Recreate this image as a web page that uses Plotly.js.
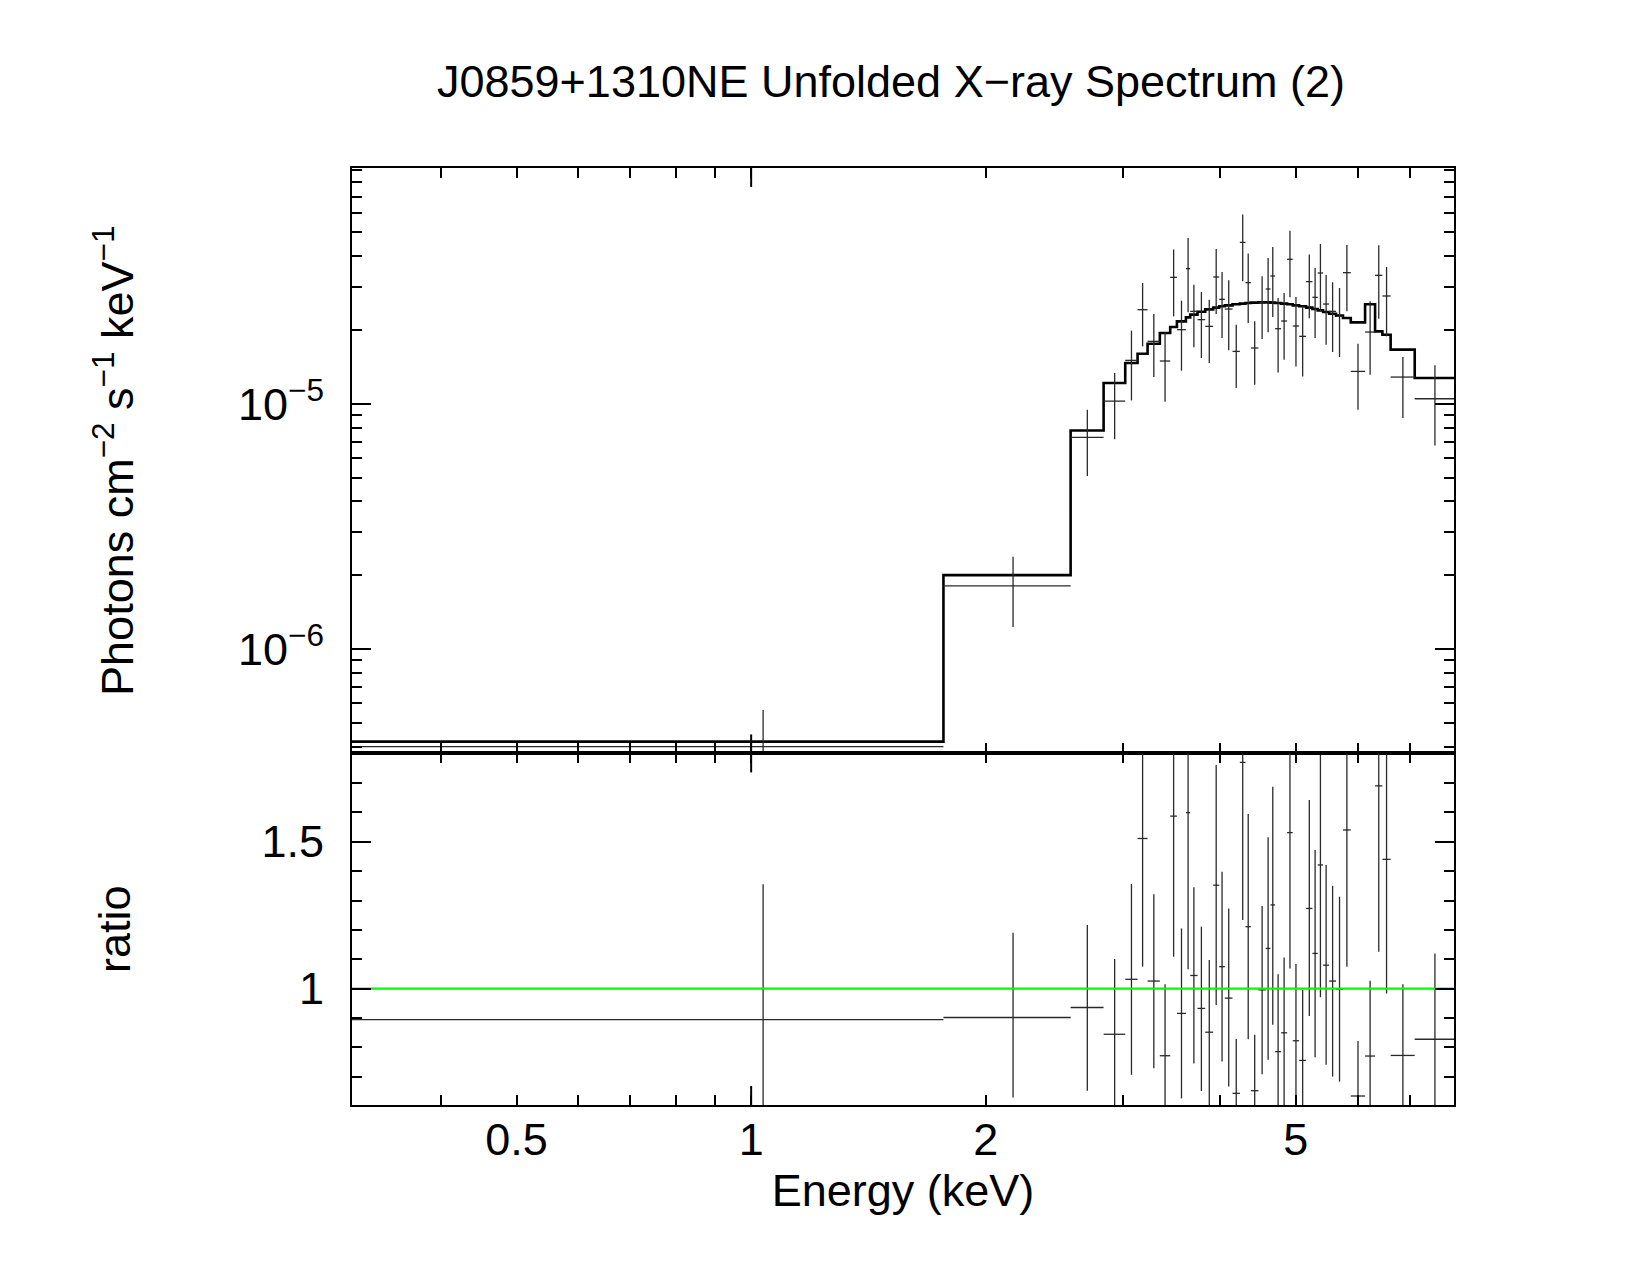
<!DOCTYPE html>
<html>
<head>
<meta charset="utf-8">
<script src="https://cdn.plot.ly/plotly-3.0.1.min.js"></script>
<style>html,body{margin:0;padding:0;background:#fff;}#chart{width:1650px;height:1275px;}</style>
</head>
<body>
<div id="chart"></div>
<script>
// ---- Energy bins (keV) ----
const binLo = [0.3075, 1.765, 2.570, 2.833, 3.020, 3.132, 3.226, 3.345, 3.449, 3.518, 3.613, 3.659, 3.739, 3.825, 3.916, 3.986, 4.053, 4.146, 4.237, 4.308, 4.377, 4.476, 4.574, 4.638, 4.702, 4.786, 4.872, 4.954, 5.048, 5.153, 5.250, 5.333, 5.418, 5.515, 5.630, 5.746, 5.880, 6.134, 6.318, 6.456, 6.615, 7.103];
const binHi = [1.765, 2.570, 2.833, 3.020, 3.132, 3.226, 3.345, 3.449, 3.518, 3.613, 3.659, 3.739, 3.825, 3.916, 3.986, 4.053, 4.146, 4.237, 4.308, 4.377, 4.476, 4.574, 4.638, 4.702, 4.786, 4.872, 4.954, 5.048, 5.153, 5.250, 5.333, 5.418, 5.515, 5.630, 5.746, 5.880, 6.134, 6.318, 6.456, 6.615, 7.103, 7.977];
const binCenter = [1.036, 2.168, 2.700, 2.927, 3.076, 3.179, 3.286, 3.397, 3.484, 3.566, 3.636, 3.699, 3.782, 3.871, 3.951, 4.020, 4.100, 4.192, 4.273, 4.343, 4.427, 4.525, 4.606, 4.670, 4.744, 4.829, 4.913, 5.001, 5.101, 5.202, 5.292, 5.376, 5.467, 5.573, 5.688, 5.813, 6.007, 6.226, 6.387, 6.536, 6.859, 7.540];

// ---- Unfolded model (photons cm^-2 s^-1 keV^-1) ----
const modelFlux = [4.19e-7, 2.00e-6, 7.78e-6, 1.215e-5, 1.466e-5, 1.600e-5, 1.758e-5, 1.943e-5, 2.055e-5, 2.168e-5, 2.251e-5, 2.309e-5, 2.374e-5, 2.427e-5, 2.466e-5, 2.497e-5, 2.520e-5, 2.544e-5, 2.560e-5, 2.576e-5, 2.584e-5, 2.592e-5, 2.592e-5, 2.584e-5, 2.576e-5, 2.560e-5, 2.544e-5, 2.520e-5, 2.497e-5, 2.466e-5, 2.434e-5, 2.404e-5, 2.367e-5, 2.330e-5, 2.287e-5, 2.237e-5, 2.148e-5, 2.544e-5, 1.974e-5, 1.913e-5, 1.662e-5, 1.273e-5];

// ---- Unfolded data with error bounds ----
const dataFlux = [4.0e-7, 1.81e-6, 7.29e-6, 1.025e-5, 1.503e-5, 2.419e-5, 1.797e-5, 1.494e-5, 3.278e-5, 2.005e-5, 3.556e-5, 2.381e-5, 2.203e-5, 2.068e-5, 3.289e-5, 2.666e-5, 2.434e-5, 1.635e-5, 4.555e-5, 3.118e-5, 1.688e-5, 2.576e-5, 2.938e-5, 3.319e-5, 2.023e-5, 2.175e-5, 3.882e-5, 2.075e-5, 1.883e-5, 3.148e-5, 2.716e-5, 3.414e-5, 2.551e-5, 2.381e-5, 2.272e-5, 3.425e-5, 1.355e-5, 1.961e-5, 3.340e-5, 2.751e-5, 1.285e-5, 1.048e-5];
const dataFluxHi = [5.64e-7, 2.38e-6, 9.45e-6, 1.334e-5, 1.986e-5, 3.108e-5, 2.323e-5, 1.955e-5, 4.252e-5, 2.633e-5, 4.746e-5, 3.060e-5, 2.855e-5, 2.658e-5, 4.278e-5, 3.446e-5, 3.187e-5, 2.101e-5, 5.907e-5, 4.095e-5, 2.168e-5, 3.309e-5, 3.931e-5, 4.360e-5, 2.700e-5, 2.829e-5, 5.082e-5, 2.725e-5, 2.496e-5, 4.057e-5, 3.578e-5, 4.484e-5, 3.351e-5, 3.128e-5, 2.966e-5, 4.442e-5, 1.757e-5, 2.617e-5, 4.429e-5, 3.611e-5, 1.551e-5, 1.434e-5];
const dataFluxLo = [2.6e-7, 1.23e-6, 5.08e-6, 7.17e-6, 1.032e-5, 1.714e-5, 1.285e-5, 1.019e-5, 2.272e-5, 1.364e-5, 2.359e-5, 1.698e-5, 1.536e-5, 1.466e-5, 2.323e-5, 1.853e-5, 1.651e-5, 1.159e-5, 3.157e-5, 2.134e-5, 1.196e-5, 1.837e-5, 1.955e-5, 2.258e-5, 1.342e-5, 1.512e-5, 2.716e-5, 1.420e-5, 1.293e-5, 2.230e-5, 1.853e-5, 2.381e-5, 1.741e-5, 1.625e-5, 1.551e-5, 2.381e-5, 9.45e-6, 1.313e-5, 2.223e-5, 1.883e-5, 8.74e-6, 6.76e-6];

// ---- Ratio (data / model) with error bounds ----
const ratio = [0.895, 0.902, 0.936, 0.845, 1.032, 1.511, 1.026, 0.772, 1.587, 0.916, 1.599, 1.045, 0.933, 0.852, 1.352, 1.075, 0.968, 0.644, 1.770, 1.211, 0.653, 0.996, 1.137, 1.285, 0.786, 0.850, 1.531, 0.823, 0.756, 1.273, 1.120, 1.421, 1.080, 1.026, 0.998, 1.540, 0.635, 0.771, 1.690, 1.440, 0.773, 0.828];
const ratioHi = [1.355, 1.190, 1.217, 1.101, 1.356, 1.94, 1.321, 1.015, 2.07, 1.205, 2.10, 1.345, 1.211, 1.098, 1.761, 1.398, 1.273, 0.829, 2.28, 1.594, 0.843, 1.281, 1.515, 1.687, 1.049, 1.106, 1.99, 1.084, 0.996, 1.642, 1.472, 1.795, 1.421, 1.350, 1.313, 2.00, 0.822, 1.027, 2.20, 1.90, 1.015, 1.120];
const ratioLo = [0.45, 0.630, 0.653, 0.59, 0.707, 1.075, 0.729, 0.52, 1.109, 0.627, 1.066, 0.746, 0.652, 0.60, 0.945, 0.752, 0.667, 0.46, 1.234, 0.828, 0.47, 0.709, 0.758, 0.877, 0.55, 0.59, 1.069, 0.57, 0.52, 0.907, 0.767, 0.971, 0.741, 0.701, 0.684, 1.075, 0.44, 0.51, 1.126, 0.984, 0.50, 0.52];
const unityLine = [1, 1];

// ---- Axis ranges and ticks ----
const energyRange = [0.3075, 7.977];
const fluxRange = [3.75e-7, 9.15e-5];
const ratioRange = [0.6044, 1.8003];
const xTickVals = [0.5, 1, 2, 5];
const xTickText = ['0.5', '1', '2', '5'];
const xMinorVals = [0.4, 0.6, 0.7, 0.8, 0.9, 3, 4, 6, 7];
const xLongTick = [1];
const yTickVals = [1e-6, 1e-5];
const yTickText = ['10<sup>−6</sup>', '10<sup>−5</sup>'];
const yMinorVals = [4e-7, 5e-7, 6e-7, 7e-7, 8e-7, 9e-7, 2e-6, 3e-6, 4e-6, 5e-6, 6e-6, 7e-6, 8e-6, 9e-6, 2e-5, 3e-5, 4e-5, 5e-5, 6e-5, 7e-5, 8e-5, 9e-5];
const rTickVals = [1, 1.5];
const rTickText = ['1', '1.5'];
const rMinorVals = [0.7, 0.8, 0.9, 1.1, 1.2, 1.3, 1.4, 1.6, 1.7];

const FONT = 'Liberation Sans, Arial, Helvetica, sans-serif';
const DATA_COLOR = '#2a2a2a';
const split = 0.3752;

const errX = {
  type: 'data', symmetric: false,
  array: binHi.map((h, i) => h - binCenter[i]),
  arrayminus: binLo.map((l, i) => binCenter[i] - l),
  width: 0, thickness: 1.3, color: DATA_COLOR
};

const traces = [
  {
    x: binLo.concat([binHi[binHi.length - 1]]),
    y: modelFlux.concat([modelFlux[modelFlux.length - 1]]),
    xaxis: 'x', yaxis: 'y', mode: 'lines',
    line: {shape: 'hv', color: 'black', width: 2.6},
    hoverinfo: 'skip'
  },
  {
    x: binCenter, y: dataFlux, xaxis: 'x', yaxis: 'y', mode: 'markers',
    marker: {size: 1, color: DATA_COLOR},
    error_x: errX,
    error_y: {type: 'data', symmetric: false,
      array: dataFluxHi.map((h, i) => h - dataFlux[i]),
      arrayminus: dataFluxLo.map((l, i) => dataFlux[i] - l),
      width: 0, thickness: 1.3, color: DATA_COLOR}
  },
  {
    x: binCenter, y: ratio, xaxis: 'x2', yaxis: 'y2', mode: 'markers',
    marker: {size: 1, color: DATA_COLOR},
    error_x: errX,
    error_y: {type: 'data', symmetric: false,
      array: ratioHi.map((h, i) => h - ratio[i]),
      arrayminus: ratioLo.map((l, i) => ratio[i] - l),
      width: 0, thickness: 1.3, color: DATA_COLOR}
  },
  {
    x: energyRange, y: unityLine, xaxis: 'x2', yaxis: 'y2', mode: 'lines',
    line: {color: '#00ff00', width: 2.2}, hoverinfo: 'skip'
  }
];

function baseAxis(extra) {
  return Object.assign({
    showgrid: false, zeroline: false, showline: true, linecolor: 'black', linewidth: 2,
    mirror: 'ticks', ticks: 'inside', tickwidth: 2, tickcolor: 'black',
    tickfont: {family: FONT, size: 45, color: 'black'}
  }, extra);
}
const xr = [Math.log10(energyRange[0]), Math.log10(energyRange[1])];

const longTickLen = 19 / 937;
const shapes = [];
xLongTick.forEach(v => {
  [[1, 1 - longTickLen], [split, split + longTickLen], [split, split - longTickLen], [0, longTickLen]].forEach(p => {
    shapes.push({type: 'line', xref: 'x', yref: 'paper', x0: v, x1: v, y0: p[0], y1: p[1],
      line: {color: 'black', width: 2}});
  });
});

const layout = {
  width: 1650, height: 1275,
  paper_bgcolor: 'white', plot_bgcolor: 'white',
  margin: {l: 352, r: 196, t: 168, b: 170},
  showlegend: false,
  font: {family: FONT, size: 45, color: 'black'},
  title: {text: 'J0859+1310NE Unfolded X−ray Spectrum (2)', font: {family: FONT, size: 45, color: 'black'},
    xref: 'container', yref: 'container', x: 0.54, y: 1 - 81 / 1275, xanchor: 'center', yanchor: 'middle'},
  xaxis: baseAxis({type: 'log', range: xr, anchor: 'y', showticklabels: false, ticklen: 10,
    tickmode: 'array', tickvals: xTickVals, ticktext: xTickText,
    minor: {ticks: 'inside', ticklen: 10, tickwidth: 2, tickcolor: 'black', tickmode: 'array', tickvals: xMinorVals, showgrid: false}}),
  xaxis2: baseAxis({type: 'log', range: xr, anchor: 'y2', showticklabels: true, ticklen: 10,
    tickmode: 'array', tickvals: xTickVals, ticktext: xTickText, ticklabelstandoff: -6,
    minor: {ticks: 'inside', ticklen: 10, tickwidth: 2, tickcolor: 'black', tickmode: 'array', tickvals: xMinorVals, showgrid: false},
    title: {text: 'Energy (keV)', font: {family: FONT, size: 45, color: 'black'}, standoff: 6}}),
  yaxis: baseAxis({type: 'log', domain: [split, 1], anchor: 'x',
    range: [Math.log10(fluxRange[0]), Math.log10(fluxRange[1])], ticklen: 19,
    tickmode: 'array', tickvals: yTickVals, ticktext: yTickText, ticklabelstandoff: 17,
    minor: {ticks: 'inside', ticklen: 10, tickwidth: 2, tickcolor: 'black', tickmode: 'array', tickvals: yMinorVals, showgrid: false},
    title: {text: 'Photons cm<sup>−2</sup> s<sup>−1</sup> keV<sup>−1</sup>', font: {family: FONT, size: 45, color: 'black'}, standoff: 90}}),
  yaxis2: baseAxis({type: 'linear', domain: [0, split], anchor: 'x2',
    range: ratioRange, ticklen: 19,
    tickmode: 'array', tickvals: rTickVals, ticktext: rTickText, ticklabelstandoff: 17,
    minor: {ticks: 'inside', ticklen: 10, tickwidth: 2, tickcolor: 'black', tickmode: 'array', tickvals: rMinorVals, showgrid: false},
    title: {text: 'ratio', font: {family: FONT, size: 45, color: 'black'}, standoff: 117}}),
  shapes: shapes
};

Plotly.newPlot('chart', traces, layout, {displayModeBar: false, staticPlot: true});
</script>
</body>
</html>
